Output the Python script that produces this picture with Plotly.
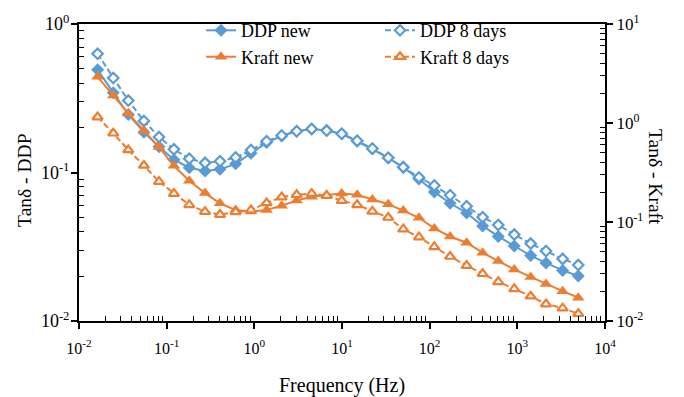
import plotly.graph_objects as go

freq = [0.0163, 0.0246, 0.0365, 0.055, 0.0818, 0.121, 0.181, 0.274, 0.406, 0.612,
        0.916, 1.38, 2.05, 3.04, 4.51, 6.68, 9.93, 14.9, 22.2, 33.7,
        50.0, 75.5, 113, 171, 264, 402, 606, 923, 1419, 2123, 3289, 4955]

ddp_new = [0.491, 0.344, 0.246, 0.187, 0.149, 0.122, 0.1077, 0.1023, 0.105, 0.1144,
           0.135, 0.159, 0.176, 0.1895, 0.1965, 0.1915, 0.1823, 0.1623, 0.1439, 0.1252,
           0.1082, 0.0903, 0.074, 0.0621, 0.0534, 0.0437, 0.0371, 0.032, 0.0276, 0.0246,
           0.0219, 0.0201]

ddp_8days = [0.630, 0.433, 0.305, 0.2226, 0.1732, 0.1433, 0.1239, 0.1161, 0.119, 0.1263,
             0.1418, 0.1623, 0.1777, 0.1895, 0.1965, 0.1915, 0.1823, 0.1636, 0.145, 0.1258,
             0.1087, 0.0927, 0.0817, 0.0703, 0.0593, 0.050, 0.0443, 0.0382, 0.0332, 0.0296,
             0.0262, 0.0238]

kraft_new = [2.93, 1.90, 1.249, 0.838, 0.571, 0.370, 0.2615, 0.196, 0.1546, 0.132,
             0.1277, 0.132, 0.1462, 0.1651, 0.1798, 0.1873, 0.1937, 0.1881, 0.1692, 0.1512,
             0.1305, 0.1103, 0.0861, 0.0714, 0.0618, 0.049, 0.0403, 0.0332, 0.0279, 0.0237,
             0.020, 0.0172]

kraft_8days = [1.149, 0.788, 0.534, 0.3724, 0.2556, 0.1937, 0.1488, 0.1271, 0.1188, 0.1263,
               0.132, 0.1557, 0.1782, 0.1885, 0.1937, 0.1851, 0.1643, 0.1488, 0.1282, 0.111,
               0.0847, 0.0703, 0.0561, 0.0448, 0.0363, 0.030, 0.0249, 0.0211, 0.0178, 0.01484,
               0.01347, 0.01184]

x_ticks = [1e-2, 1e-1, 1e0, 1e1, 1e2, 1e3, 1e4]
x_ticktext = ["10<sup>-2</sup>", "10<sup>-1</sup>", "10<sup>0</sup>", "10<sup>1</sup>",
              "10<sup>2</sup>", "10<sup>3</sup>", "10<sup>4</sup>"]
yl_ticks = [1e-2, 1e-1, 1e0]
yl_ticktext = ["10<sup>-2</sup>", "10<sup>-1</sup>", "10<sup>0</sup>"]
yr_ticks = [1e-2, 1e-1, 1e0, 1e1]
yr_ticktext = ["10<sup>-2</sup>", "10<sup>-1</sup>", "10<sup>0</sup>", "10<sup>1</sup>"]

BLUE = "#5B9BD5"
ORANGE = "#ED7D31"
FONT = "Times New Roman"


def minor_vals(lo, hi):
    out = []
    for e in range(lo, hi):
        for m in range(2, 10):
            out.append(m * 10 ** e)
    return out


fig = go.Figure()
fig.add_trace(go.Scatter(x=freq, y=ddp_new, name="DDP new", mode="lines+markers",
                         line=dict(color=BLUE, width=2),
                         marker=dict(symbol="diamond", size=10, color=BLUE)))
fig.add_trace(go.Scatter(x=freq, y=ddp_8days, name="DDP 8 days", mode="lines+markers",
                         line=dict(color=BLUE, width=2, dash="6px,3px"),
                         marker=dict(symbol="diamond", size=8, color="white",
                                     line=dict(color=BLUE, width=2.2))))
fig.add_trace(go.Scatter(x=freq, y=kraft_new, name="Kraft new", mode="lines+markers",
                         yaxis="y2",
                         line=dict(color=ORANGE, width=2),
                         marker=dict(symbol="triangle-up", size=11, color=ORANGE)))
fig.add_trace(go.Scatter(x=freq, y=kraft_8days, name="Kraft 8 days", mode="lines+markers",
                         yaxis="y2",
                         line=dict(color=ORANGE, width=2, dash="6px,3px"),
                         marker=dict(symbol="triangle-up", size=9, color="white",
                                     line=dict(color=ORANGE, width=2.2))))

axis_common = dict(showgrid=False, zeroline=False, showline=True, linecolor="black",
                   linewidth=2, ticks="outside", ticklen=6, tickwidth=1.5, tickcolor="black",
                   automargin=False)
minor_common = dict(ticks="inside", ticklen=5, tickcolor="black", tickwidth=1.3)
# inner halves of the major ("cross") ticks
inner_common = dict(type="log", showgrid=False, zeroline=False, showline=False,
                    ticks="inside", ticklen=6, tickwidth=1.5, tickcolor="black",
                    showticklabels=False, automargin=False)

fig.update_layout(
    width=684, height=397,
    margin=dict(l=79, r=79, t=15, b=76),
    paper_bgcolor="white", plot_bgcolor="white",
    font=dict(family=FONT, color="black", size=16),
    xaxis=dict(type="log", range=[-2, 4], tickvals=x_ticks, ticktext=x_ticktext,
               mirror=True, ticklabelstandoff=6,
               tickfont=dict(family=FONT, size=16, color="black"),
               minor=dict(tickvals=minor_vals(-2, 4), **minor_common),
               **axis_common),
    yaxis=dict(type="log", range=[-2, 0], tickvals=yl_ticks, ticktext=yl_ticktext,
               ticklabelstandoff=-2,
               tickfont=dict(family=FONT, size=18, color="black"),
               minor=dict(tickvals=minor_vals(-2, 0), **minor_common),
               **axis_common),
    yaxis2=dict(type="log", range=[-2, 1], tickvals=yr_ticks, ticktext=yr_ticktext,
                overlaying="y", side="right", anchor="x",
                tickfont=dict(family=FONT, size=17, color="black"),
                minor=dict(tickvals=minor_vals(-2, 1), **minor_common),
                **axis_common),
    xaxis2=dict(range=[-2, 4], tickvals=x_ticks, overlaying="x", anchor="y", side="bottom",
                **inner_common),
    yaxis3=dict(range=[-2, 0], tickvals=yl_ticks, overlaying="y", anchor="x", side="left",
                **inner_common),
    yaxis4=dict(range=[-2, 1], tickvals=yr_ticks, overlaying="y", anchor="x", side="right",
                **inner_common),
    legend=dict(orientation="h", x=0.232, y=1.04, xanchor="left", yanchor="top",
                entrywidth=134, entrywidthmode="pixels",
                font=dict(family=FONT, size=18, color="black"),
                bgcolor="rgba(0,0,0,0)", tracegroupgap=0),
    showlegend=True,
    annotations=[
        dict(text="Frequency (Hz)", xref="paper", yref="paper",
             x=0.5, y=-0.217, xanchor="center", yanchor="middle", showarrow=False,
             font=dict(family=FONT, size=20, color="black")),
        dict(text="Tanδ - DDP", textangle=-90, xref="paper", yref="paper",
             x=-0.1027, y=0.475, xanchor="center", yanchor="middle", showarrow=False,
             font=dict(family=FONT, size=19.5, color="black")),
        dict(text="Tanδ - Kraft", textangle=90, xref="paper", yref="paper",
             x=1.095, y=0.485, xanchor="center", yanchor="middle", showarrow=False,
             font=dict(family=FONT, size=19.5, color="black")),
    ],
)

fig.write_html("out.html")
